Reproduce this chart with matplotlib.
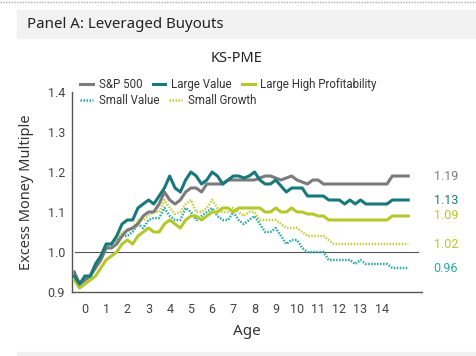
"""KS-PME chart for leveraged buyouts, excess money multiple by age."""
import matplotlib
matplotlib.use('Agg')
import matplotlib.pyplot as plt
from matplotlib.patches import Rectangle
from matplotlib.lines import Line2D

# quarterly observations, age -0.5 .. 15.25
ages = [-0.5 + 0.25 * i for i in range(64)]
tick_ages = list(range(15))

sp500 = [0.95, 0.92, 0.93, 0.94, 0.96, 0.98, 1.01, 1.01, 1.02, 1.04,
         1.055, 1.06, 1.07, 1.09, 1.10, 1.10, 1.12, 1.15, 1.13, 1.12,
         1.13, 1.15, 1.16, 1.16, 1.15, 1.17, 1.17, 1.17, 1.17, 1.18,
         1.18, 1.18, 1.18, 1.18, 1.18, 1.185, 1.19, 1.19, 1.185, 1.18,
         1.185, 1.19, 1.18, 1.175, 1.17, 1.18, 1.18, 1.17, 1.17, 1.17,
         1.17, 1.17, 1.17, 1.17, 1.17, 1.17, 1.17, 1.17, 1.17, 1.17,
         1.19, 1.19, 1.19, 1.19]
large_value = [0.94, 0.92, 0.94, 0.94, 0.97, 0.99, 1.02, 1.02, 1.04, 1.07,
               1.08, 1.08, 1.11, 1.12, 1.13, 1.12, 1.14, 1.16, 1.19, 1.16,
               1.15, 1.18, 1.20, 1.19, 1.17, 1.18, 1.20, 1.19, 1.17, 1.18,
               1.19, 1.19, 1.185, 1.19, 1.20, 1.18, 1.17, 1.17, 1.18, 1.165,
               1.15, 1.16, 1.16, 1.16, 1.14, 1.14, 1.14, 1.14, 1.13, 1.13,
               1.13, 1.12, 1.13, 1.12, 1.13, 1.12, 1.12, 1.12, 1.12, 1.12,
               1.13, 1.13, 1.13, 1.13]
large_high_prof = [0.93, 0.91, 0.92, 0.93, 0.94, 0.96, 0.98, 0.99, 1.00, 1.02,
                   1.03, 1.02, 1.04, 1.05, 1.06, 1.05, 1.05, 1.07, 1.08, 1.07,
                   1.06, 1.08, 1.09, 1.09, 1.08, 1.09, 1.10, 1.10, 1.11, 1.11,
                   1.10, 1.11, 1.11, 1.11, 1.11, 1.11, 1.10, 1.10, 1.11, 1.10,
                   1.10, 1.11, 1.10, 1.10, 1.095, 1.095, 1.09, 1.09, 1.08, 1.08,
                   1.08, 1.08, 1.08, 1.08, 1.08, 1.08, 1.08, 1.08, 1.08, 1.08,
                   1.09, 1.09, 1.09, 1.09]
small_value = [0.94, 0.92, 0.93, 0.94, 0.97, 0.99, 1.01, 1.02, 1.03, 1.04,
               1.04, 1.05, 1.07, 1.06, 1.08, 1.085, 1.085, 1.11, 1.09, 1.08,
               1.08, 1.11, 1.10, 1.08, 1.09, 1.10, 1.11, 1.09, 1.08, 1.08,
               1.10, 1.08, 1.07, 1.08, 1.09, 1.07, 1.05, 1.05, 1.06, 1.04,
               1.02, 1.03, 1.03, 1.01, 1.00, 1.00, 1.00, 1.00, 0.98, 0.98,
               0.98, 0.98, 0.98, 0.97, 0.98, 0.97, 0.97, 0.97, 0.97, 0.97,
               0.96, 0.96, 0.96, 0.96]
small_growth = [0.93, 0.92, 0.93, 0.94, 0.96, 0.98, 1.02, 1.02, 1.03, 1.05,
                1.05, 1.06, 1.08, 1.08, 1.09, 1.10, 1.10, 1.13, 1.11, 1.095,
                1.10, 1.12, 1.13, 1.10, 1.10, 1.11, 1.13, 1.11, 1.10, 1.10,
                1.11, 1.10, 1.09, 1.10, 1.10, 1.08, 1.08, 1.08, 1.08, 1.07,
                1.06, 1.06, 1.06, 1.05, 1.04, 1.04, 1.04, 1.04, 1.03, 1.02,
                1.02, 1.02, 1.02, 1.02, 1.02, 1.02, 1.02, 1.02, 1.02, 1.02,
                1.02, 1.02, 1.02, 1.02]

GRAY = '#7b7b7b'
DARK_TEAL = '#17797a'
LIME = '#b4c82c'
TEAL = '#27a7a6'
LIME_DOT = '#c2d13a'
NARROW = ['Roboto', 'DejaVu Sans']
PLAIN = ['Noto Sans', 'DejaVu Sans']

fig = plt.figure(figsize=(4.77, 3.56), dpi=100)
fig.patch.set_facecolor('white')

# header band, footer band, dotted rule on top
fig.patches.append(Rectangle((17 / 477, 1 - 38 / 356), 1, 28 / 356,
                             transform=fig.transFigure, color='#f2f2f2', zorder=0))
fig.patches.append(Rectangle((17 / 477, 0), 1, 4 / 356,
                             transform=fig.transFigure, color='#f0f0f0', zorder=0))
fig.lines.append(Line2D([0, 1], [1 - 1.5 / 356] * 2, transform=fig.transFigure,
                        color='#aaaaaa', lw=1.0, ls=(0, (1, 1))))
fig.text(27 / 477, 1 - 24 / 356, 'Panel A: Leveraged Buyouts', family=PLAIN,
         fontsize=10.8, color='#222222', va='center', ha='left')
fig.text(237 / 477, 1 - 59 / 356, 'KS-PME', family=PLAIN, fontsize=10.5,
         color='#222222', va='center', ha='center')

ax = fig.add_axes([72 / 477, 64 / 356, 350 / 477, 200 / 356])
ax.plot(ages, sp500, color=GRAY, lw=2.2, label='S&P 500', zorder=4)
ax.plot(ages, large_value, color=DARK_TEAL, lw=2.2, label='Large Value', zorder=5)
ax.plot(ages, large_high_prof, color=LIME, lw=2.2, label='Large High Profitability', zorder=3)
ax.plot(ages, small_value, color=TEAL, lw=1.8, ls=(0, (0.6, 0.6)), label='Small Value', zorder=2)
ax.plot(ages, small_growth, color=LIME_DOT, lw=1.8, ls=(0, (0.6, 0.6)), label='Small Growth', zorder=1)
ax.plot([ages[0] + 0.05, ages[-1] + 0.45], [1.0, 1.0], color='#555555', lw=0.8, zorder=0)

ax.set_xlim(-0.61, 15.9)
ax.set_ylim(0.9, 1.4)
ax.set_yticks([0.9, 1.0, 1.1, 1.2, 1.3, 1.4])
ax.set_yticklabels(['0.9', '1.0', '1.1', '1.2', '1.3', '1.4'])
ax.set_xticks(tick_ages)
ax.tick_params(length=0, labelsize=9, colors='#444444', pad=8)
ax.tick_params(axis='y', pad=5)
for lab in ax.get_xticklabels() + ax.get_yticklabels():
    lab.set_family(NARROW)
for side in ['top', 'right']:
    ax.spines[side].set_visible(False)
for side in ['left', 'bottom']:
    ax.spines[side].set_color('#555555')
    ax.spines[side].set_linewidth(1.0)
ax.set_xlabel('Age', family=PLAIN, fontsize=11, color='#333333', labelpad=6)
ax.set_ylabel('Excess Money Multiple', family=PLAIN, fontsize=10.5, color='#333333', labelpad=10)

# end-of-line value labels
end_labels = [(sp500[-1], GRAY, 1.19), (large_value[-1], DARK_TEAL, 1.13),
              (large_high_prof[-1], LIME, 1.09), (small_growth[-1], LIME, 1.02),
              (small_value[-1], TEAL, 0.96)]
for yv, col, val in end_labels:
    ax.text(16.45, yv, f'{val:.2f}', color=col, fontsize=9, family=NARROW,
            va='center', ha='left', clip_on=False)

handles, labels = ax.get_legend_handles_labels()
leg1 = ax.legend(handles[:3], labels[:3], ncol=3, loc='upper left',
                 bbox_to_anchor=(0.01, 1.095), frameon=False, handlelength=1.1,
                 handletextpad=0.5, columnspacing=0.9, borderaxespad=0,
                 prop={'family': NARROW, 'size': 8.3})
for t in leg1.get_texts():
    t.set_color('#333333')
ax.add_artist(leg1)
leg2 = ax.legend(handles[3:], labels[3:], ncol=2, loc='upper left',
                 bbox_to_anchor=(0.01, 1.015), frameon=False, handlelength=1.1,
                 handletextpad=0.5, columnspacing=0.9, borderaxespad=0,
                 prop={'family': NARROW, 'size': 8.3})
for t in leg2.get_texts():
    t.set_color('#333333')

fig.savefig('out.png', dpi=100)
